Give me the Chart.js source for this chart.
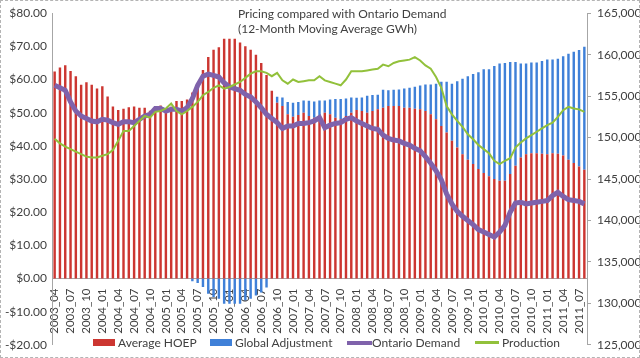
<!DOCTYPE html>
<html>
<head>
<meta charset="utf-8">
<script src="https://cdn.jsdelivr.net/npm/chart.js@4"></script>
<style>
  body { margin: 0; background: #fff; }
  #wrap { position: relative; width: 640px; height: 358px; font-family: Lato, sans-serif; color: #404040; }
  #borda { position: absolute; left: 0; top: 0; right: 0; bottom: 0; border: 1px dashed #b4b4b4; pointer-events: none; }
  #titulo { position: absolute; left: 238px; top: 6px; font-size: 12px; line-height: 15px; }
  .leg { position: absolute; top: 335px; font-size: 12px; line-height: 16px; white-space: nowrap; }
  .leg i { display: inline-block; vertical-align: middle; margin-right: 3px; position: relative; top: -1px; }
</style>
</head>
<body>
<div id="wrap">
  <canvas id="grafico" width="640" height="358"></canvas>
  <div id="titulo">Pricing compared with Ontario Demand<br>(12-Month Moving Average GWh)</div>
  <div class="leg" style="left:93px"><i style="width:22px;height:7px;background:#cc3631"></i>Average HOEP</div>
  <div class="leg" style="left:210px"><i style="width:22px;height:7px;background:#3f80d8"></i>Global Adjustment</div>
  <div class="leg" style="left:347px"><i style="width:25px;height:4px;background:#7f62ab;margin-right:0"></i>Ontario Demand</div>
  <div class="leg" style="left:475px"><i style="width:24px;height:3px;background:#92c13b"></i>Production</div>
  <div id="borda"></div>
</div>
<script>
// meses de 2003_04 até 2011_08
const meses = [];
for (let a = 2003, m = 4; a < 2011 || (a === 2011 && m <= 8); m++) {
  if (m > 12) { m = 1; a++; }
  meses.push(a + '_' + String(m).padStart(2, '0'));
}

// preço médio HOEP ($/MWh)
const hoep = [
  62.4, 63.6, 64.3, 62.6, 61.0, 58.4, 59.2, 58.4, 57.3, 58.0,
  54.9, 51.9, 50.8, 51.2, 51.6, 51.9, 51.5, 51.5, 50.6, 51.7,
  52.2, 51.4, 51.8, 53.5, 53.5, 54.0, 56.1, 58.5, 62.9, 66.8,
  69.0, 69.7, 72.3, 72.3, 72.3, 71.2, 70.0, 69.0, 67.5, 65.0,
  61.4, 56.6, 53.0, 52.0, 49.5, 48.8, 49.3, 50.0, 49.0, 48.5,
  49.0, 50.0, 49.5, 48.5, 48.0, 49.0, 50.0, 50.8, 50.5, 50.0,
  50.5, 51.0, 51.5, 52.0, 52.0, 52.0, 51.5, 51.5, 51.2, 51.0,
  50.5, 49.5, 48.0, 46.0, 44.0, 41.5, 39.5, 37.5, 35.8, 34.5,
  33.0, 31.8, 30.8, 30.0, 29.5, 29.5, 31.5, 34.0, 36.5, 37.5,
  37.8, 37.8, 37.6, 37.5, 37.8, 37.6, 37.1, 35.8, 34.8, 33.8,
  32.8
];

// ajuste global ($/MWh)
const ajuste = [
  0, 0, 0, 0, 0, 0, 0, 0, 0, 0,
  0, 0, 0, 0, 0, 0, 0, 0, 0, 0,
  0, 0, 0, 0, 0, 0, -0.8, -1.4, -2.6, -4.6,
  -5.6, -6.1, -7.6, -7.6, -7.6, -7.6, -6.6, -6.1, -5.1, -4.2,
  -2.7, 0, 1.8, 2.6, 3.7, 4.2, 3.9, 3.7, 4.6, 4.9,
  4.7, 3.7, 4.5, 5.6, 6.1, 5.3, 4.6, 3.7, 4.1, 5.1,
  4.8, 4.4, 5.4, 4.8, 4.9, 5.0, 5.8, 6.0, 6.6, 7.2,
  8.0, 9.0, 10.7, 13.3, 15.3, 17.2, 20.0, 22.7, 25.2, 27.2,
  29.2, 31.3, 32.3, 34.1, 35.3, 35.5, 33.8, 31.3, 28.3, 27.3,
  27.3, 27.3, 28.0, 28.5, 28.2, 28.7, 29.9, 32.0, 33.6, 35.1,
  37.1
];

// demanda de Ontário (GWh, média móvel 12 meses)
const demanda = [
  156300, 156000, 155700, 154300, 153200, 152600, 152300, 152000, 151900, 152200,
  152100, 151800, 151600, 151900, 151900, 151800, 152200, 152600, 152800, 153500,
  153500, 153200, 153400, 153400, 153200, 153600, 154700, 156300, 157400, 157650,
  157500, 157300, 156600, 156100, 155900, 155700, 155200, 154900, 154300, 153600,
  152800, 152300, 151800, 151100, 151400, 151400, 151700, 151700, 151800, 152000,
  152400, 151200, 151500, 151700, 151800, 152200, 152400, 152000, 151700, 151400,
  151100, 151000, 150300, 149900, 149700, 149600, 149300, 149100, 148700, 148400,
  147700, 146900, 146000, 144900, 143200, 142000, 141100, 140500, 140000, 139500,
  138900, 138600, 138300, 138000, 138600, 139400, 141000, 142100, 142200, 142000,
  142100, 142200, 142300, 142400, 143000, 143400, 142900, 142500, 142400, 142300,
  142000
];

// produção (GWh, média móvel 12 meses)
const producao = [
  149850, 149300, 148900, 148600, 148300, 148000, 147700, 147600, 147600, 147800,
  148000, 148500, 149600, 150800, 150800, 151400, 152000, 152600, 152400, 153100,
  153200, 153500, 154100, 153200, 152800, 153200, 153700, 154300, 155100, 155500,
  156000, 156300, 155900, 156100, 156400, 156700, 157200, 157700, 158000, 158000,
  157800, 157400, 157800, 156900, 156500, 157000, 156700, 156800, 156900, 156900,
  157400, 156900, 156700, 156500, 156300, 157000, 158000, 158000, 158000, 158100,
  158200, 158300, 158800, 158600, 159000, 159200, 159300, 159400, 159700, 159300,
  158700, 158300, 157300, 156000, 153800, 152800, 152000, 151300, 150400, 149800,
  149100, 148600, 148100, 147200, 146800, 147200, 147500, 148800, 149400, 149900,
  150300, 150700, 151100, 151500, 151800, 152500, 153300, 153700, 153500, 153400,
  153100
];

const corTexto = '#404040';
const corEixo = '#a6a6a6';
const fonte = { family: 'Lato', size: 12 };

const ctx = document.getElementById('grafico').getContext('2d');

new Chart(ctx, {
  type: 'bar',
  data: {
    labels: meses,
    datasets: [
      {
        label: 'Average HOEP',
        data: hoep,
        backgroundColor: '#cc3631',
        yAxisID: 'y',
        order: 2,
        categoryPercentage: 1,
        barPercentage: 0.46
      },
      {
        label: 'Global Adjustment',
        data: ajuste,
        backgroundColor: '#3f80d8',
        yAxisID: 'y',
        order: 3,
        categoryPercentage: 1,
        barPercentage: 0.46
      },
      {
        type: 'line',
        label: 'Ontario Demand',
        data: demanda,
        borderColor: '#7f62ab',
        borderWidth: 5,
        pointRadius: 0,
        tension: 0,
        yAxisID: 'y2',
        order: 1
      },
      {
        type: 'line',
        label: 'Production',
        data: producao,
        borderColor: '#92c13b',
        borderWidth: 2,
        pointRadius: 0,
        tension: 0,
        yAxisID: 'y2',
        order: 0
      }
    ]
  },
  options: {
    responsive: false,
    animation: false,
    layout: { padding: { top: 8, bottom: 7 } },
    plugins: {
      legend: { display: false },
      tooltip: { enabled: false }
    },
    scales: {
      x: {
        stacked: true,
        position: { y: 0 },
        grid: { display: false },
        border: { color: corEixo },
        ticks: {
          autoSkip: false,
          minRotation: 90,
          maxRotation: 90,
          padding: 2,
          color: corTexto,
          font: { family: 'Lato', size: 11.5 },
          callback: (v, i) => i % 3 === 0 ? meses[i] : null
        }
      },
      y: {
        stacked: true,
        min: -20,
        max: 80,
        grid: { display: false, drawTicks: false },
        border: { color: corEixo },
        ticks: {
          stepSize: 10,
          padding: 5,
          color: corTexto,
          font: fonte,
          callback: v => (v < 0 ? '-$' : '$') + Math.abs(v).toFixed(2)
        },
        afterFit: s => { s.width = 52; }
      },
      y2: {
        position: 'right',
        min: 125000,
        max: 165000,
        grid: { drawOnChartArea: false, tickLength: 4, color: corEixo },
        border: { color: corEixo },
        ticks: {
          stepSize: 5000,
          padding: 6,
          color: corTexto,
          font: fonte,
          callback: v => v.toLocaleString('en-US')
        },
        afterFit: s => { s.width = 53; }
      }
    }
  }
});
</script>
</body>
</html>
